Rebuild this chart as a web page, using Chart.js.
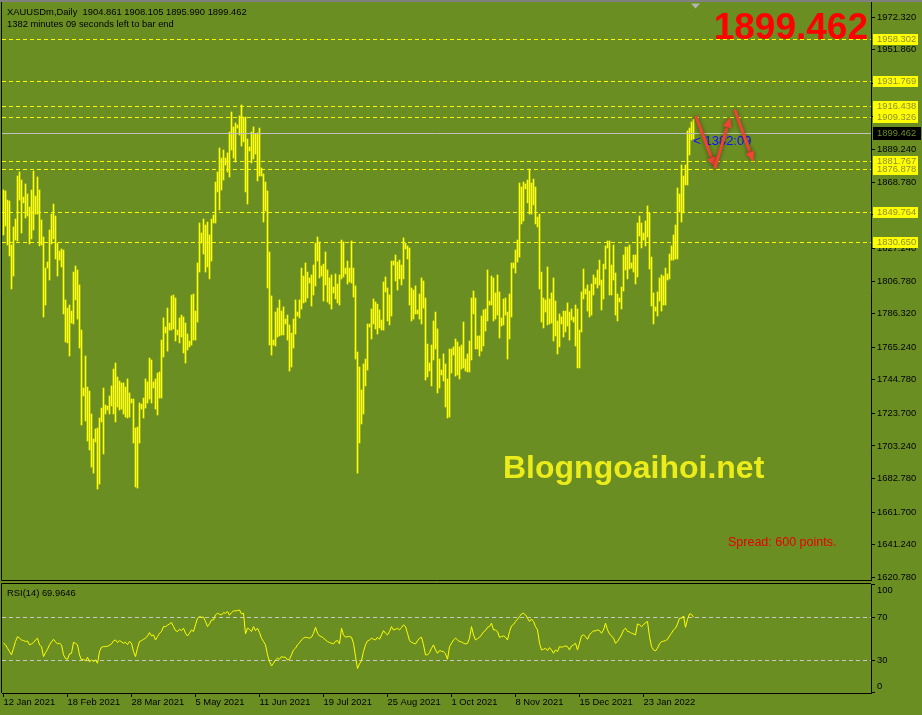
<!DOCTYPE html>
<html>
<head>
<meta charset="utf-8">
<title>XAUUSDm, Daily</title>
<script src="https://cdn.jsdelivr.net/npm/chart.js@4.4.1/dist/chart.umd.min.js"></script>
<style>
  body { margin: 0; background: #6b8e23; }
  #wrap { position: relative; width: 922px; height: 715px; overflow: hidden; background: #6b8e23; }
  canvas { position: absolute; left: 0; display: block; z-index: 1; }
  #price-chart { top: 0; }
  #rsi-chart { top: 582px; }
  .txt { position: absolute; white-space: pre; line-height: 1; font-family: 'Liberation Sans', Arial, sans-serif; z-index: 2; }
  #info1 { left: 7px; top: 7px; font-size: 9.4px; color: #000; }
  #info2 { left: 7px; top: 19px; font-size: 9.4px; color: #000; }
  #big-price { right: 54px; top: 8px; font-size: 37px; font-weight: bold; color: #ff0000; }
  #watermark { left: 503px; top: 451px; font-size: 32px; font-weight: bold; color: #ecec1a; }
  #spread { left: 728px; top: 536px; font-size: 12.5px; color: #e80000; }
  #countdown { left: 693px; top: 134px; font-size: 13px; color: #1010f0; z-index: 0; }
  #rsi-label { left: 7px; top: 588px; font-size: 9.4px; color: #000; }
</style>
</head>
<body>
<div id="wrap">
  <canvas id="price-chart" width="922" height="582"></canvas>
  <canvas id="rsi-chart" width="922" height="133"></canvas>
  <div class="txt" id="info1"></div>
  <div class="txt" id="info2">1382 minutes 09 seconds left to bar end</div>
  <div class="txt" id="big-price"></div>
  <div class="txt" id="watermark">Blogngoaihoi.net</div>
  <div class="txt" id="spread">Spread: 600 points.</div>
  <div class="txt" id="countdown">&lt; 1382:09</div>
  <div class="txt" id="rsi-label"></div>
</div>
<script>
// daily bars, XAUUSDm (high / low)
const highs = [
  1863.9, 1863.3, 1857.6, 1857.0, 1829.4, 1840.7, 1845.7, 1872.7, 1875.2, 1870.2,
  1859.5, 1867.7, 1861.4, 1853.2, 1863.9, 1875.8, 1860.1, 1872.1, 1863.9, 1845.1,
  1834.4, 1814.9, 1818.7, 1838.8, 1848.8, 1855.1, 1847.6, 1830.6, 1825.6, 1826.9,
  1826.2, 1794.9, 1789.8, 1791.7, 1787.9, 1812.4, 1816.2, 1813.7, 1804.3, 1776.0,
  1739.6, 1759.7, 1740.2, 1737.7, 1723.3, 1707.6, 1713.9, 1714.5, 1720.8, 1727.0,
  1739.6, 1728.9, 1728.3, 1734.6, 1740.9, 1751.5, 1755.3, 1746.5, 1744.0, 1742.8,
  1742.8, 1740.2, 1745.3, 1736.5, 1732.7, 1732.7, 1714.5, 1715.1, 1730.2, 1729.5,
  1733.3, 1745.3, 1743.4, 1758.4, 1757.2, 1743.4, 1745.3, 1749.0, 1749.7, 1769.7,
  1783.6, 1777.9, 1789.8, 1780.4, 1797.4, 1798.0, 1796.1, 1776.0, 1783.6, 1785.4,
  1784.2, 1780.4, 1773.5, 1769.1, 1798.0, 1798.6, 1787.9, 1818.1, 1843.2, 1836.9,
  1845.7, 1841.9, 1843.8, 1835.7, 1845.7, 1848.2, 1868.9, 1875.2, 1890.3, 1884.0,
  1889.0, 1884.0, 1887.2, 1900.3, 1912.9, 1903.5, 1906.0, 1904.7, 1910.4, 1917.3,
  1909.7, 1909.7, 1895.9, 1890.9, 1900.3, 1903.5, 1899.1, 1899.7, 1902.8, 1877.7,
  1874.0, 1868.9, 1863.3, 1825.0, 1797.4, 1769.7, 1787.3, 1789.8, 1794.9, 1787.9,
  1790.5, 1782.9, 1785.4, 1779.2, 1774.1, 1782.9, 1794.9, 1787.3, 1794.9, 1814.9,
  1809.9, 1818.1, 1812.4, 1808.7, 1810.6, 1816.8, 1830.6, 1834.4, 1831.3, 1816.2,
  1817.4, 1825.0, 1813.7, 1808.7, 1810.6, 1803.0, 1811.2, 1804.9, 1810.6, 1832.5,
  1831.3, 1814.9, 1819.3, 1814.9, 1831.9, 1814.9, 1803.7, 1762.2, 1752.8, 1738.4,
  1754.7, 1757.8, 1779.8, 1779.8, 1789.2, 1795.5, 1793.6, 1792.3, 1788.6, 1782.3,
  1806.2, 1809.3, 1802.4, 1798.0, 1819.3, 1819.3, 1823.1, 1818.7, 1819.9, 1816.8,
  1833.8, 1830.6, 1828.8, 1827.5, 1802.4, 1801.1, 1803.7, 1788.6, 1798.6, 1808.7,
  1806.8, 1796.1, 1767.2, 1755.3, 1766.6, 1781.7, 1787.3, 1776.7, 1757.8, 1750.9,
  1761.0, 1754.7, 1745.3, 1764.1, 1764.1, 1765.4, 1770.4, 1768.5, 1765.4, 1766.6,
  1781.0, 1757.8, 1761.0, 1769.1, 1796.1, 1800.5, 1796.1, 1772.3, 1772.3, 1784.8,
  1788.6, 1789.2, 1813.7, 1794.2, 1809.9, 1808.7, 1799.3, 1810.6, 1799.9, 1783.6,
  1795.5, 1796.1, 1787.3, 1798.6, 1818.1, 1818.1, 1826.2, 1832.5, 1868.3, 1865.8,
  1868.9, 1867.7, 1870.2, 1877.1, 1868.3, 1870.8, 1865.8, 1846.9, 1848.8, 1812.4,
  1796.1, 1794.9, 1815.6, 1795.5, 1799.3, 1808.7, 1794.2, 1781.7, 1786.1, 1784.2,
  1787.9, 1787.9, 1793.0, 1787.3, 1789.2, 1784.2, 1791.7, 1789.2, 1776.0, 1799.9,
  1814.3, 1801.8, 1804.3, 1800.5, 1804.9, 1810.6, 1808.7, 1813.7, 1819.9, 1807.4,
  1817.4, 1828.8, 1831.9, 1831.9, 1816.8, 1829.4, 1811.8, 1798.6, 1796.1, 1803.0,
  1823.1, 1828.1, 1828.1, 1829.4, 1818.1, 1823.1, 1823.1, 1843.2, 1847.6, 1843.2,
  1836.9, 1844.5, 1853.9, 1849.5, 1821.8, 1799.3, 1790.5, 1799.9, 1808.7, 1810.6,
  1809.9, 1814.9, 1811.2, 1823.7, 1828.8, 1835.7, 1841.9, 1865.2, 1861.4, 1879.6,
  1872.7, 1879.6, 1901.0, 1902.8, 1906.6, 1908.105
];
const lows = [
  1835.7, 1841.3, 1829.4, 1822.5, 1801.8, 1809.9, 1832.5, 1831.9, 1857.6, 1836.9,
  1855.8, 1846.3, 1847.6, 1830.0, 1833.2, 1838.8, 1848.8, 1848.8, 1828.8, 1829.4,
  1784.2, 1791.7, 1814.9, 1807.4, 1830.0, 1833.2, 1820.6, 1809.9, 1819.9, 1815.6,
  1786.1, 1768.5, 1767.9, 1759.7, 1780.4, 1779.8, 1794.9, 1782.9, 1764.7, 1716.4,
  1734.6, 1718.9, 1706.3, 1700.7, 1690.0, 1686.2, 1705.7, 1676.2, 1679.3, 1718.3,
  1698.2, 1723.3, 1725.8, 1723.3, 1728.3, 1723.3, 1718.3, 1727.7, 1725.8, 1726.4,
  1723.3, 1721.4, 1720.8, 1721.4, 1730.2, 1705.1, 1677.5, 1676.8, 1705.1, 1726.4,
  1720.8, 1727.0, 1730.2, 1732.7, 1730.2, 1739.6, 1726.4, 1722.7, 1733.3, 1733.3,
  1759.1, 1774.1, 1762.8, 1776.0, 1776.0, 1776.7, 1769.1, 1772.9, 1767.9, 1771.6,
  1761.6, 1755.3, 1763.5, 1765.4, 1766.6, 1769.7, 1769.7, 1781.0, 1812.4, 1830.6,
  1823.7, 1812.4, 1815.6, 1808.1, 1819.3, 1843.2, 1843.2, 1862.7, 1851.4, 1863.9,
  1870.2, 1879.6, 1875.2, 1872.1, 1889.0, 1884.0, 1881.5, 1902.8, 1898.4, 1891.5,
  1894.1, 1862.7, 1855.1, 1888.4, 1880.9, 1883.4, 1886.5, 1869.6, 1872.7, 1872.7,
  1843.8, 1850.7, 1802.4, 1766.6, 1760.3, 1766.6, 1766.0, 1771.6, 1772.3, 1772.9,
  1772.9, 1779.8, 1769.7, 1750.3, 1752.8, 1764.7, 1773.5, 1784.8, 1783.6, 1789.2,
  1793.0, 1793.6, 1796.1, 1805.5, 1791.1, 1798.0, 1803.7, 1819.3, 1808.7, 1809.9,
  1794.2, 1804.3, 1793.6, 1792.3, 1789.2, 1799.3, 1795.5, 1793.0, 1791.7, 1808.1,
  1809.3, 1811.2, 1804.9, 1806.2, 1805.5, 1796.7, 1757.8, 1686.2, 1705.1, 1717.0,
  1723.3, 1740.9, 1750.9, 1777.9, 1770.4, 1779.8, 1776.7, 1773.5, 1777.3, 1776.0,
  1776.0, 1799.9, 1781.7, 1779.2, 1784.8, 1816.8, 1806.8, 1801.1, 1808.1, 1804.3,
  1808.1, 1826.9, 1820.6, 1791.7, 1781.7, 1782.9, 1786.1, 1786.1, 1782.9, 1779.8,
  1789.8, 1744.6, 1746.5, 1750.3, 1740.9, 1757.2, 1764.1, 1736.5, 1739.6, 1747.8,
  1744.0, 1727.7, 1720.8, 1721.4, 1749.0, 1760.3, 1747.1, 1747.8, 1745.3, 1751.5,
  1752.2, 1750.3, 1749.7, 1749.7, 1757.2, 1786.1, 1764.1, 1764.1, 1759.7, 1762.8,
  1766.0, 1775.4, 1781.7, 1791.7, 1791.7, 1781.7, 1782.9, 1785.4, 1771.0, 1778.5,
  1779.2, 1785.4, 1757.8, 1770.4, 1784.2, 1814.9, 1811.8, 1818.7, 1821.8, 1842.6,
  1844.5, 1864.6, 1855.8, 1848.8, 1848.8, 1854.5, 1842.6, 1840.7, 1801.8, 1781.0,
  1777.3, 1787.3, 1779.2, 1779.8, 1780.4, 1769.1, 1772.3, 1761.0, 1765.4, 1779.8,
  1771.6, 1774.8, 1778.5, 1769.7, 1782.3, 1781.0, 1766.0, 1752.2, 1752.2, 1774.8,
  1795.5, 1798.6, 1787.9, 1784.2, 1785.4, 1798.0, 1804.9, 1802.4, 1804.3, 1788.6,
  1795.5, 1814.3, 1827.5, 1798.0, 1798.0, 1807.4, 1785.4, 1781.7, 1793.6, 1789.2,
  1800.5, 1813.7, 1808.1, 1814.3, 1814.9, 1812.4, 1804.9, 1809.3, 1835.0, 1827.5,
  1832.5, 1828.8, 1834.4, 1814.3, 1791.1, 1779.8, 1787.9, 1784.8, 1794.2, 1787.9,
  1791.7, 1791.7, 1807.4, 1808.1, 1819.9, 1819.9, 1820.6, 1820.6, 1850.1, 1843.8,
  1849.5, 1867.1, 1867.1, 1885.9, 1895.3, 1895.990
];
// RSI(14)
const rsi14 = [
  45.8, 44.3, 41.2, 38.1, 35.0, 41.2, 47.4, 52.0, 50.5, 48.9,
  48.3, 47.4, 48.0, 44.3, 45.2, 46.4, 48.9, 50.5, 44.3, 42.7,
  33.4, 37.1, 40.2, 44.3, 47.1, 49.5, 47.1, 45.2, 45.8, 44.3,
  35.0, 31.6, 30.9, 35.9, 36.5, 46.7, 45.8, 44.3, 35.0, 30.3,
  30.9, 29.4, 32.8, 28.5, 30.3, 28.8, 30.3, 27.2, 38.1, 42.1,
  42.7, 42.7, 43.0, 44.0, 45.2, 48.0, 48.9, 46.4, 48.3, 47.1,
  45.8, 46.7, 44.6, 47.4, 45.8, 38.1, 33.4, 41.2, 47.4, 48.3,
  49.5, 50.5, 52.6, 55.7, 52.6, 53.6, 48.9, 52.0, 55.1, 56.7,
  61.3, 61.3, 62.6, 63.8, 65.0, 61.3, 57.6, 56.7, 58.8, 57.6,
  59.8, 55.1, 52.6, 55.1, 58.2, 56.7, 62.9, 69.1, 70.6, 70.0,
  70.0, 66.0, 61.3, 63.8, 67.5, 67.5, 72.2, 73.7, 72.8, 72.2,
  74.3, 73.7, 75.3, 71.9, 74.3, 75.9, 75.9, 76.2, 76.8, 73.1,
  73.7, 54.5, 59.8, 58.8, 56.7, 61.3, 57.6, 59.8, 55.7, 50.5,
  47.4, 44.3, 35.0, 28.8, 24.7, 27.2, 30.3, 31.9, 30.9, 33.4,
  32.8, 32.8, 30.3, 30.9, 35.0, 39.6, 41.2, 44.3, 46.4, 48.9,
  50.5, 51.4, 51.1, 50.5, 51.4, 55.1, 60.7, 55.1, 52.6, 52.0,
  50.5, 48.9, 47.4, 46.4, 45.8, 45.2, 47.7, 48.3, 45.2, 59.8,
  53.6, 51.4, 52.0, 52.0, 51.4, 45.8, 33.4, 22.3, 26.6, 29.7,
  38.1, 44.3, 48.0, 48.9, 50.5, 49.5, 48.9, 51.4, 49.5, 53.6,
  57.6, 55.1, 53.6, 56.7, 61.3, 58.2, 58.8, 59.8, 58.2, 60.4,
  62.9, 61.3, 55.1, 48.3, 46.7, 45.8, 45.2, 48.0, 50.5, 51.4,
  44.3, 35.0, 35.0, 37.1, 41.2, 44.3, 39.6, 36.5, 39.0, 38.4,
  38.1, 35.9, 30.9, 42.7, 45.8, 48.9, 50.5, 48.9, 47.4, 47.1,
  45.8, 45.2, 45.8, 50.5, 61.3, 53.6, 48.9, 50.2, 51.4, 53.6,
  56.4, 57.6, 60.7, 61.3, 64.4, 58.2, 58.2, 56.7, 51.4, 52.0,
  52.6, 51.4, 48.9, 56.7, 61.9, 63.2, 66.0, 68.1, 70.6, 73.1,
  73.7, 72.2, 69.1, 66.0, 68.4, 66.0, 61.3, 58.2, 45.8, 39.6,
  40.2, 41.2, 39.0, 41.8, 39.6, 36.5, 39.6, 38.1, 42.7, 42.1,
  42.7, 43.3, 42.7, 39.6, 43.3, 44.3, 45.8, 39.6, 45.8, 52.6,
  53.6, 52.0, 49.5, 53.6, 55.7, 57.3, 57.3, 58.2, 57.6, 55.1,
  58.2, 64.4, 58.2, 54.5, 52.6, 50.5, 45.8, 47.4, 50.5, 53.6,
  58.2, 59.8, 56.7, 56.4, 55.1, 54.5, 53.6, 63.8, 62.9, 61.3,
  62.9, 65.0, 66.0, 52.0, 42.7, 39.6, 38.7, 41.2, 45.2, 47.4,
  47.7, 48.3, 49.5, 52.6, 55.1, 58.2, 59.8, 63.8, 69.1, 69.1,
  71.2, 60.7, 68.1, 73.1, 72.8, 69.9646
];

const lastBar = { open: 1904.861, high: 1908.105, low: 1895.990, close: 1899.462 };
const levels = [1958.302, 1931.769, 1916.438, 1909.326, 1881.767, 1876.878, 1849.764, 1830.650];
const priceTicks = [1972.32, 1951.86, 1930.78, 1910.32, 1889.24, 1868.78, 1848.32, 1827.24, 1806.78,
  1786.32, 1765.24, 1744.78, 1723.70, 1703.24, 1682.78, 1661.70, 1641.24, 1620.78];
const rsiTicks = [0, 30, 70, 100];
const rsiLevels = [70, 30];
const dateLabels = ['12 Jan 2021', '18 Feb 2021', '28 Mar 2021', '5 May 2021', '11 Jun 2021', '19 Jul 2021',
  '25 Aug 2021', '1 Oct 2021', '8 Nov 2021', '15 Dec 2021', '23 Jan 2022'];
const BARS_PER_LABEL = 32;
// hand drawn zigzag: [bar index, price] start and end of each arrow
const arrowBars = [[346.3, 355.8], [355.8, 363.3], [365.8, 374.9]];
const arrowPrices = [[1909.7, 1878.2], [1878.2, 1909.5], [1913.7, 1881.7]];

const FONT = "'Liberation Sans', Arial, sans-serif";
const BAR_COLOR = '#ffff00';
const X_MIN = -0.75, X_MAX = 433.75;

Chart.defaults.font.family = FONT;
Chart.defaults.font.size = 9.4;
Chart.defaults.color = '#000';

document.getElementById('info1').textContent = 'XAUUSDm,Daily  ' +
  [lastBar.open, lastBar.high, lastBar.low, lastBar.close].map(v => v.toFixed(3)).join(' ');
document.getElementById('big-price').textContent = lastBar.close.toFixed(3);
document.getElementById('rsi-label').textContent = 'RSI(14) ' + rsi14[rsi14.length - 1].toFixed(4);

function drawArrow(ctx, x0, y0, x1, y1) {
  const ang = Math.atan2(y1 - y0, x1 - x0);
  const head = 10, wing = 4.5;
  const bx = x1 - head * Math.cos(ang), by = y1 - head * Math.sin(ang);
  ctx.beginPath(); ctx.moveTo(x0, y0); ctx.lineTo(bx, by); ctx.stroke();
  ctx.beginPath();
  ctx.moveTo(x1, y1);
  ctx.lineTo(bx + wing * Math.sin(ang), by - wing * Math.cos(ang));
  ctx.lineTo(bx - wing * Math.sin(ang), by + wing * Math.cos(ang));
  ctx.closePath(); ctx.fill();
}

const mainOverlay = {
  id: 'mainOverlay',
  beforeDraw(chart) {
    const ctx = chart.ctx;
    ctx.save();
    ctx.fillStyle = '#808080';
    ctx.fillRect(0, 0, chart.width, 2);
    ctx.restore();
  },
  afterDatasetsDraw(chart) {
    const { ctx, chartArea: a, scales: { y } } = chart;
    ctx.save();
    ctx.lineWidth = 1;
    ctx.setLineDash([4, 3]);
    ctx.strokeStyle = '#ffff00';
    levels.forEach(lv => {
      const py = Math.floor(y.getPixelForValue(lv)) + 0.5;
      ctx.beginPath(); ctx.moveTo(a.left, py); ctx.lineTo(a.right, py); ctx.stroke();
    });
    ctx.setLineDash([]);
    ctx.strokeStyle = '#c0c0c0';
    const cy = Math.floor(y.getPixelForValue(lastBar.close)) + 0.5;
    ctx.beginPath(); ctx.moveTo(a.left, cy); ctx.lineTo(a.right, cy); ctx.stroke();
    ctx.restore();
  },
  afterDraw(chart) {
    const { ctx, chartArea: a, scales: { x, y } } = chart;
    ctx.save();
    // frame
    ctx.strokeStyle = '#000'; ctx.lineWidth = 1;
    ctx.beginPath();
    ctx.moveTo(a.left - 0.5, a.top);
    ctx.lineTo(a.left - 0.5, a.bottom + 0.5);
    ctx.lineTo(a.right, a.bottom + 0.5);
    ctx.stroke();
    // level tags on the price axis
    ctx.font = '9.4px ' + FONT;
    ctx.textBaseline = 'middle'; ctx.textAlign = 'left';
    levels.forEach(lv => {
      const py = Math.floor(y.getPixelForValue(lv));
      ctx.fillStyle = '#ffff00';
      ctx.fillRect(a.right + 2, py - 5, 45, 11);
      ctx.fillStyle = '#8c8c3c';
      ctx.fillText(lv.toFixed(3), a.right + 6, py + 0.5);
    });
    const cy = Math.floor(y.getPixelForValue(lastBar.close));
    ctx.fillStyle = '#000';
    ctx.fillRect(a.right + 2, cy - 6, 48, 13);
    ctx.fillStyle = '#6b8e23';
    ctx.fillText(lastBar.close.toFixed(3), a.right + 6, cy + 0.5);
    // chart shift marker
    const sx = x.getPixelForValue(highs.length);
    ctx.fillStyle = '#b4b4b4';
    ctx.beginPath(); ctx.moveTo(sx - 4.5, 3.5); ctx.lineTo(sx + 4.5, 3.5); ctx.lineTo(sx, 8.5); ctx.closePath(); ctx.fill();
    // zigzag arrows
    ctx.strokeStyle = '#f24236'; ctx.fillStyle = '#f24236';
    ctx.lineWidth = 3; ctx.lineCap = 'round';
    ctx.shadowColor = 'rgba(20,40,0,0.6)'; ctx.shadowBlur = 4;
    arrowBars.forEach(([b0, b1], k) => {
      const [p0, p1] = arrowPrices[k];
      drawArrow(ctx, x.getPixelForValue(b0), y.getPixelForValue(p0), x.getPixelForValue(b1), y.getPixelForValue(p1));
    });
    ctx.restore();
  }
};

const rsiOverlay = {
  id: 'rsiOverlay',
  beforeDatasetsDraw(chart) {
    const { ctx, chartArea: a, scales: { y } } = chart;
    ctx.save();
    ctx.lineWidth = 1; ctx.setLineDash([4, 3]); ctx.strokeStyle = '#c8c8c8';
    rsiLevels.forEach(lv => {
      const py = Math.floor(y.getPixelForValue(lv)) + 0.5;
      ctx.beginPath(); ctx.moveTo(a.left, py); ctx.lineTo(a.right, py); ctx.stroke();
    });
    ctx.restore();
  },
  afterDraw(chart) {
    const { ctx, chartArea: a, scales: { y } } = chart;
    ctx.save();
    ctx.strokeStyle = '#000'; ctx.lineWidth = 1;
    ctx.beginPath();
    ctx.moveTo(a.left - 0.5, a.bottom);
    ctx.lineTo(a.left - 0.5, a.top - 0.5);
    ctx.lineTo(a.right, a.top - 0.5);
    ctx.stroke();
    ctx.font = '9.4px ' + FONT; ctx.fillStyle = '#000';
    ctx.textBaseline = 'middle'; ctx.textAlign = 'left';
    rsiTicks.forEach(v => {
      const py = Math.min(Math.max(y.getPixelForValue(v), a.top + 6.5), a.bottom - 6.5);
      ctx.fillText(String(v), a.right + 6, py);
    });
    ctx.restore();
  }
};

const axisGrid = { drawOnChartArea: false, drawTicks: true, tickLength: 4, color: '#000' };
const axisBorder = { display: true, color: '#000', width: 1 };

new Chart(document.getElementById('price-chart'), {
  type: 'bar',
  data: {
    datasets: [{
      data: highs.map((h, i) => ({ x: i, y: [lows[i], h] })),
      backgroundColor: BAR_COLOR,
      borderWidth: 0,
      barThickness: 1,
      minBarLength: 1
    }]
  },
  options: {
    responsive: false,
    animation: false,
    events: [],
    layout: { padding: { left: 2, top: 2, right: 0, bottom: 2 } },
    plugins: { legend: { display: false }, tooltip: { enabled: false } },
    scales: {
      x: { type: 'linear', display: false, offset: false, bounds: 'data', min: X_MIN, max: X_MAX,
           grid: { offset: false } },
      y: {
        position: 'right',
        min: 1619.085, max: 1981.925,
        afterBuildTicks: s => { s.ticks = priceTicks.map(v => ({ value: v })); },
        afterFit: s => { s.width = 51; s.paddingTop = 0; s.paddingBottom = 0; },
        grid: axisGrid,
        border: axisBorder,
        ticks: { padding: 2, autoSkip: false, color: '#000', callback: v => Number(v).toFixed(3) }
      }
    }
  },
  plugins: [mainOverlay]
});

new Chart(document.getElementById('rsi-chart'), {
  type: 'line',
  data: {
    datasets: [{
      data: rsi14.map((v, i) => ({ x: i, y: v })),
      borderColor: '#ffff00',
      borderWidth: 1,
      pointRadius: 0,
      tension: 0,
      fill: false
    }]
  },
  options: {
    responsive: false,
    animation: false,
    events: [],
    layout: { padding: { left: 2, top: 2, right: 0, bottom: 0 } },
    plugins: { legend: { display: false }, tooltip: { enabled: false } },
    scales: {
      x: {
        type: 'linear', position: 'bottom', min: X_MIN, max: X_MAX,
        afterBuildTicks: s => { s.ticks = dateLabels.map((_, k) => ({ value: k * BARS_PER_LABEL })); },
        afterFit: s => { s.height = 22; s.paddingLeft = 0; s.paddingRight = 0; },
        grid: axisGrid,
        border: axisBorder,
        ticks: { align: 'start', padding: 0, maxRotation: 0, autoSkip: false, color: '#000',
                 callback: (v, k) => dateLabels[k] }
      },
      y: {
        position: 'right', min: -0.47, max: 100.93,
        afterBuildTicks: s => { s.ticks = rsiTicks.map(v => ({ value: v })); },
        afterFit: s => { s.width = 51; s.paddingTop = 0; s.paddingBottom = 0; },
        grid: axisGrid,
        border: axisBorder,
        ticks: { display: false }
      }
    }
  },
  plugins: [rsiOverlay]
});
</script>
</body>
</html>
